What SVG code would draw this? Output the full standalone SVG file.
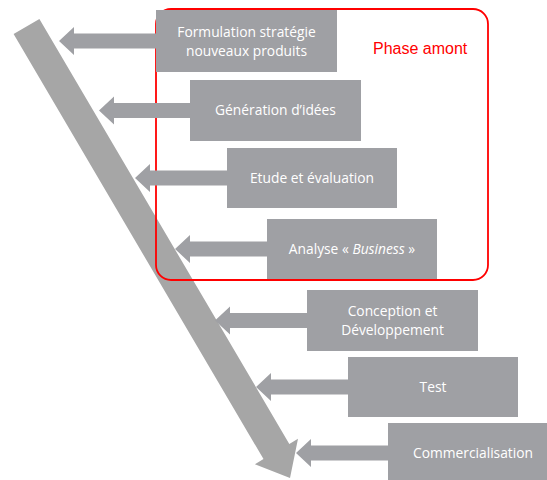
<svg xmlns="http://www.w3.org/2000/svg" width="547" height="480" viewBox="0 0 547 480">
<style>
.box{fill:#9fa0a4;}
.arr{fill:#9fa0a4;}
.lbl{font-family:"Open Sans","DejaVu Sans",sans-serif;font-size:13.8px;fill:#ffffff;text-anchor:middle;}
.phase{font-family:"Liberation Sans",Arial,sans-serif;font-size:16px;fill:#ff0000;}
</style>
<defs>
<path id="harrow" d="M0,0 L15,-14 L15,-7.5 L100,-7.5 L100,7.5 L15,7.5 L15,14 Z"/>
<filter id="soft" x="-5%" y="-5%" width="110%" height="110%"><feGaussianBlur stdDeviation="0.7"/></filter>
</defs>
<rect width="547" height="480" fill="#ffffff"/>
<g id="timeline">
<polygon points="13.6,34.1 39.4,18.9 289.3,443.9 298,438.8 290,478 254.9,464.2 263.5,459.1" fill="#a6a6a6" filter="url(#soft)"/>
</g>
<g id="phase-amont">
<rect x="156" y="9" width="332" height="271" rx="15" ry="15" fill="none" stroke="#ff0000" stroke-width="1.8"/>
<text class="phase" x="373" y="54">Phase amont</text>
</g>
<g id="connectors">
<use href="#harrow" class="arr" x="59" y="41"/>
<use href="#harrow" class="arr" x="99" y="110.5"/>
<use href="#harrow" class="arr" x="135" y="178"/>
<use href="#harrow" class="arr" x="175" y="249"/>
<use href="#harrow" class="arr" x="215" y="320.5"/>
<use href="#harrow" class="arr" x="256" y="387"/>
<use href="#harrow" class="arr" x="296" y="453"/>
</g>
<g id="n1"><rect class="box" x="156" y="10" width="181" height="62"/><text class="lbl" x="246.5" y="37">Formulation stratégie</text><text class="lbl" x="246.5" y="56">nouveaux produits</text></g>
<g id="n2"><rect class="box" x="190" y="80" width="171" height="61"/><text class="lbl" x="275.5" y="115">Génération d’idées</text></g>
<g id="n3"><rect class="box" x="227" y="148" width="170" height="60"/><text class="lbl" x="312" y="183">Etude et évaluation</text></g>
<g id="n4"><rect class="box" x="267" y="219" width="170" height="60"/><text class="lbl" x="352" y="254">Analyse « <tspan font-style="italic">Business</tspan> »</text></g>
<g id="n5"><rect class="box" x="307" y="290" width="171" height="61"/><text class="lbl" x="392.5" y="316">Conception et</text><text class="lbl" x="392.5" y="335">Développement</text></g>
<g id="n6"><rect class="box" x="348" y="357" width="170" height="60"/><text class="lbl" x="433" y="392">Test</text></g>
<g id="n7"><rect class="box" x="388" y="423" width="170" height="62"/><text class="lbl" x="473" y="458">Commercialisation</text></g>
</svg>
